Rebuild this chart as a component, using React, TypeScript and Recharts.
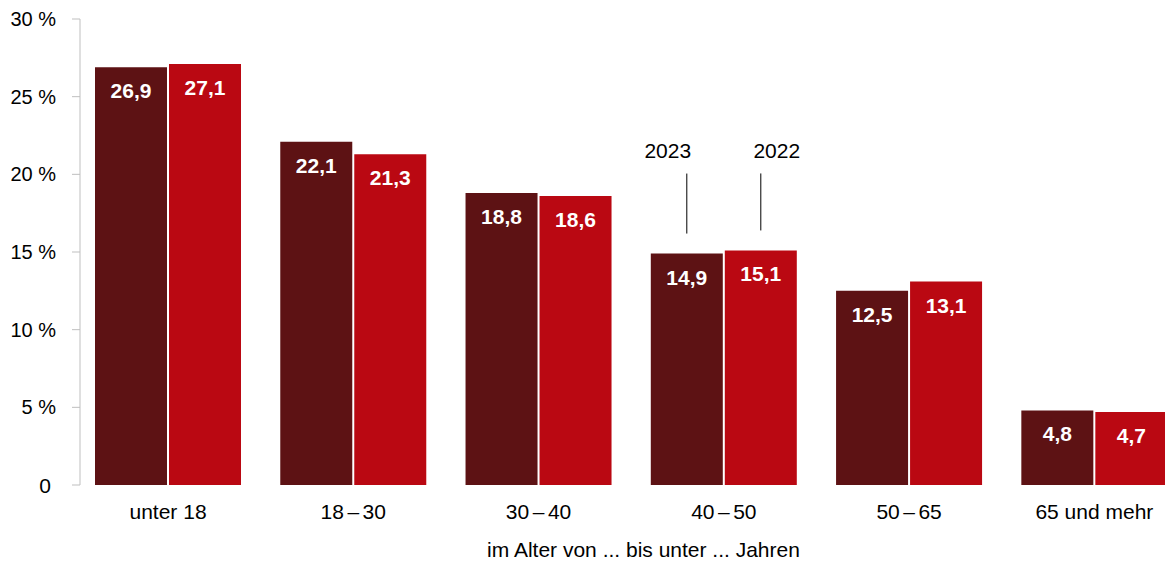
import React from 'react';
import { BarChart, Bar, XAxis, YAxis, LabelList } from 'recharts';

const categories = ['unter 18', '18\u2006–\u200630', '30\u2006–\u200640', '40\u2006–\u200650', '50\u2006–\u200665', '65 und mehr'];
const values2023 = [26.9, 22.1, 18.8, 14.9, 12.5, 4.8];
const values2022 = [27.1, 21.3, 18.6, 15.1, 13.1, 4.7];
const yTicks = [0, 5, 10, 15, 20, 25, 30];
const seriesNames = ['2023', '2022'];
const annotatedIndex = 3;
const axisTitle = 'im Alter von ... bis unter ... Jahren';

const data = categories.map((c, i) => ({ cat: c, y2023: values2023[i], y2022: values2022[i] }));

const FONT = '"Liberation Sans", Arial, sans-serif';
const DARK = '#5D1214';
const RED = '#BA0812';

const fmt = (v: number) => v.toFixed(1).replace('.', ',');

const makeLabel = (seriesIdx: number) => (props: any) => {
  const { x, y, width, value, index } = props;
  const cx = Number(x) + Number(width) / 2;
  const top = Number(y);
  const parts: React.ReactNode[] = [
    <text key="v" x={cx} y={top + 31} textAnchor="middle" fill="#fff" fontWeight="bold" fontSize={21} fontFamily={FONT}>
      {fmt(Number(value))}
    </text>,
  ];
  if (index === annotatedIndex) {
    const textDx = seriesIdx === 0 ? -19 : 16;
    parts.push(
      <line key="l" x1={cx} x2={cx} y1={top - 20} y2={top - 20 - (seriesIdx === 0 ? 60 : 57)} stroke="#000" strokeWidth={1} />,
      <text key="t" x={cx + textDx} y={top - (seriesIdx === 0 ? 96 : 92)} textAnchor="middle" fill="#000" fontSize={21} fontFamily={FONT}>
        {seriesNames[seriesIdx]}
      </text>
    );
  }
  return <g>{parts}</g>;
};

const YTick = (props: any) => {
  const { x, y, payload } = props;
  const v = payload.value;
  const isZero = v === 0;
  return (
    <text
      x={Number(x) - (isZero ? 5 : 0)}
      y={y}
      textAnchor="end"
      dominantBaseline="central"
      fontSize={isZero ? 21 : 20}
      fill="#000"
      fontFamily={FONT}
    >
      {isZero ? '0' : `${v} %`}
    </text>
  );
};

export default function App() {
  return (
    <div style={{ position: 'absolute', left: 0, top: 0, width: 1165, height: 562, overflow: 'hidden', background: '#fff' }}>
      <BarChart
        width={1200}
        height={562}
        data={data}
        margin={{ top: 19, right: 13, bottom: 47, left: 0 }}
        barGap={2}
        barCategoryGap={19.6}
      >
        <XAxis
          dataKey="cat"
          axisLine={false}
          tickLine={false}
          tickSize={0}
          tickMargin={19}
          height={30}
          padding={{ left: -4.6, right: 0 }}
          interval={0}
          tick={{ fontSize: 21, fill: '#000', fontFamily: FONT }}
          label={{ value: axisTitle, position: 'bottom', offset: 27, dx: 10, style: { fontSize: 21, fill: '#000', fontFamily: FONT } }}
        />
        <YAxis
          width={80}
          domain={[0, 30]}
          ticks={yTicks}
          interval={0}
          axisLine={{ stroke: '#BFBFBF' }}
          tickLine={{ stroke: '#BFBFBF' }}
          tickSize={8}
          tickMargin={16}
          tick={<YTick />}
        />
        <Bar dataKey="y2023" name={seriesNames[0]} fill={DARK} isAnimationActive={false}>
          <LabelList dataKey="y2023" content={makeLabel(0)} />
        </Bar>
        <Bar dataKey="y2022" name={seriesNames[1]} fill={RED} isAnimationActive={false}>
          <LabelList dataKey="y2022" content={makeLabel(1)} />
        </Bar>
      </BarChart>
    </div>
  );
}
